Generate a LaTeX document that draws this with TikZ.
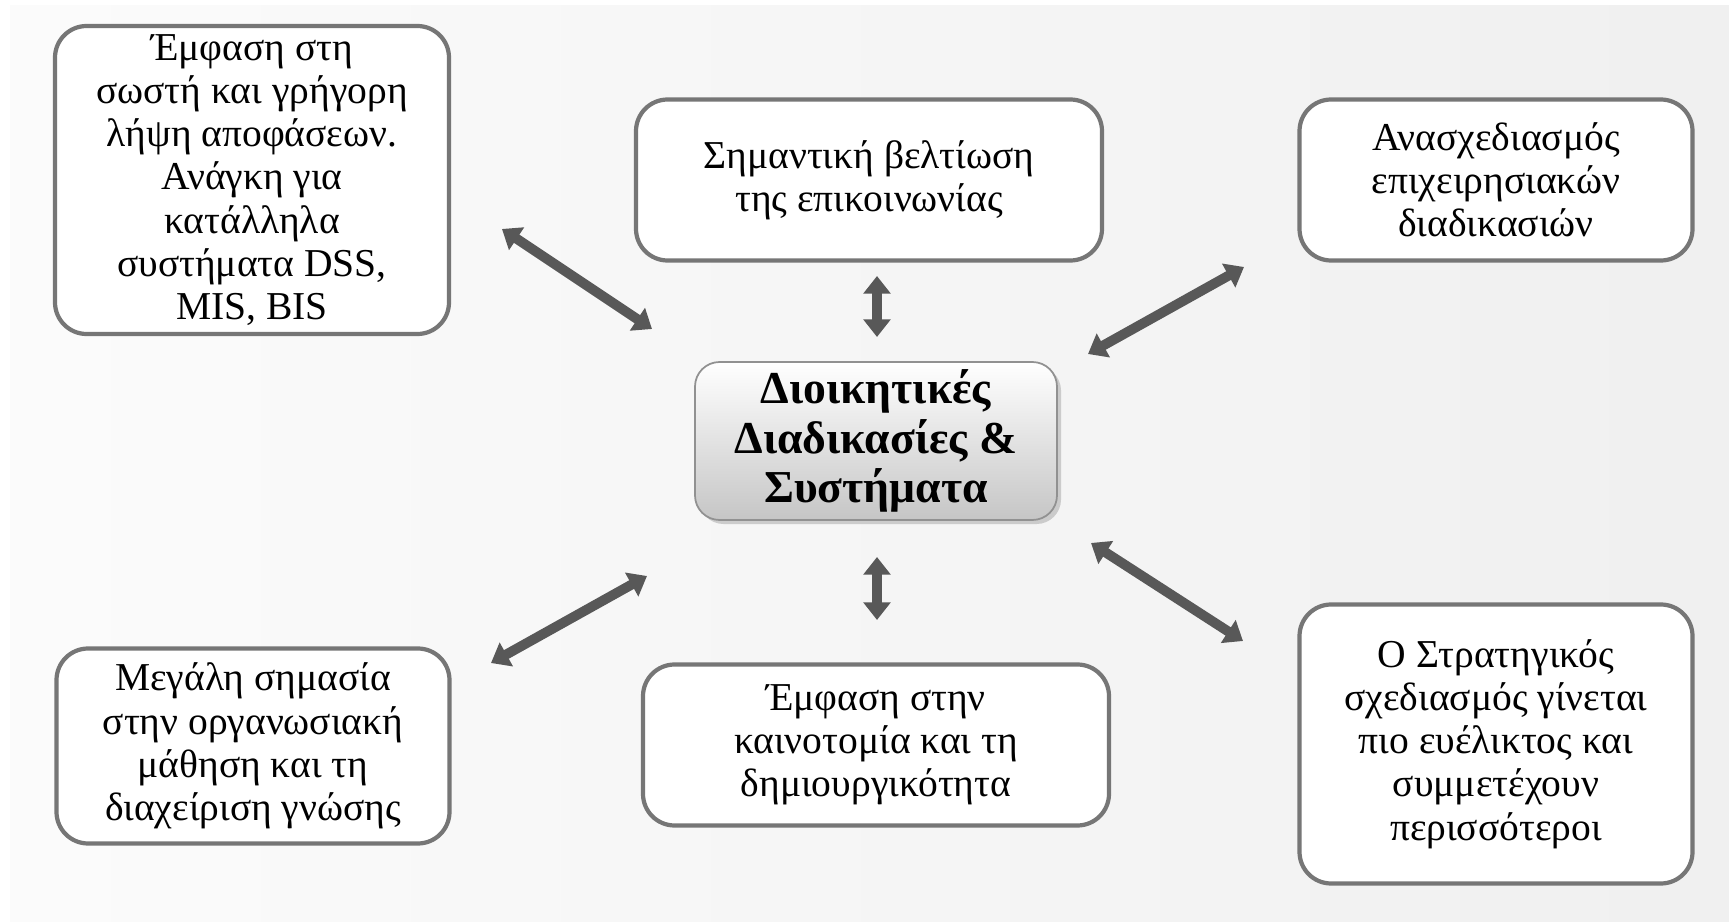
\documentclass[tikz,border=0pt]{standalone}
\usepackage{fontspec}
\setmainfont{Liberation Serif}
\usetikzlibrary{arrows.meta,shadows}

\definecolor{boxline}{RGB}{118,118,118}
\definecolor{arrowgray}{RGB}{88,88,88}

\tikzset{
	infobox/.style={draw=boxline, line width=2.4pt, rounded corners=18pt, fill=white,
		align=center, inner sep=0pt, font=\fontsize{22.5}{24.6}\selectfont},
	mainbox/.style={draw=boxline!80, line width=1pt, rounded corners=14pt,
		top color=white, bottom color=gray!45, drop shadow={opacity=0.35},
		align=center, font=\fontsize{26}{28}\selectfont\bfseries},
	bothway/.style={arrowgray, line width=5.6pt,
		{Triangle[length=10pt,width=15pt]}-{Triangle[length=10pt,width=15pt]}}
}

\begin{document}
\begin{tikzpicture}[x=0.02cm, y=-0.02cm]
	\useasboundingbox (0,0) rectangle (1729,922);
%	\draw [help lines, step=100] (0,0) grid (1729,922);
	\shade [left color=gray!3, right color=gray!12] (10,6) rectangle (1729,922);

	% boxes
	\node [infobox, minimum width=394*0.02cm, minimum height=308*0.02cm] (decide) at (252,180)
		{Έμφαση στη\\ σωστή και γρήγορη\\ λήψη αποφάσεων.\\ Ανάγκη για\\ κατάλληλα\\ συστήματα DSS,\\ MIS, BIS};
	\node [infobox, minimum width=466*0.02cm, minimum height=161*0.02cm] (comm) at (869,180)
		{Σημαντική βελτίωση\\ της επικοινωνίας};
	\node [infobox, minimum width=393*0.02cm, minimum height=161*0.02cm] (redesign) at (1496,180)
		{Ανασχεδιασμός\\ επιχειρησιακών\\ διαδικασιών};
	\node [mainbox, minimum width=362*0.02cm, minimum height=158*0.02cm] (core) at (876,441)
		{Διοικητικές\\ Διαδικασίες \&\\ Συστήματα};
	\node [infobox, minimum width=393*0.02cm, minimum height=195*0.02cm] (learn) at (253,746)
		{Μεγάλη σημασία\\ στην οργανωσιακή\\ μάθηση και τη\\ διαχείριση γνώσης};
	\node [infobox, minimum width=466*0.02cm, minimum height=161*0.02cm] (innov) at (876,745)
		{Έμφαση στην\\ καινοτομία και τη\\ δημιουργικότητα};
	\node [infobox, minimum width=393*0.02cm, minimum height=279*0.02cm] (plan) at (1496,744)
		{Ο Στρατηγικός\\ σχεδιασμός γίνεται\\ πιο ευέλικτος και\\ συμμετέχουν\\ περισσότεροι};

	% arrow ends
	\coordinate (decideE) at (502,229);  \coordinate (coreNW) at (652,329);
	\coordinate (commE) at (877,276);    \coordinate (coreN) at (877,337);
	\coordinate (redesignE) at (1244,267); \coordinate (coreNE) at (1088,354);
	\coordinate (learnE) at (491,663);   \coordinate (coreSW) at (647,576);
	\coordinate (innovE) at (877,620);   \coordinate (coreS) at (877,557);
	\coordinate (planE) at (1243,641);   \coordinate (coreSE) at (1091,543);

	\draw [bothway] (decideE) -- (coreNW);
	\draw [bothway] (commE) -- (coreN);
	\draw [bothway] (redesignE) -- (coreNE);
	\draw [bothway] (learnE) -- (coreSW);
	\draw [bothway] (innovE) -- (coreS);
	\draw [bothway] (planE) -- (coreSE);
\end{tikzpicture}
\end{document}
